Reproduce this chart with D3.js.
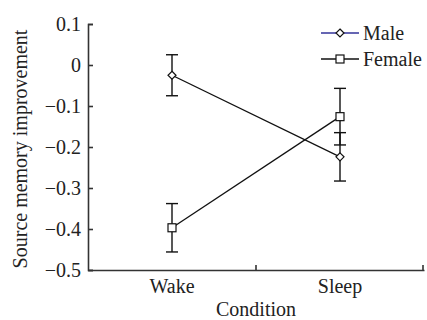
<!DOCTYPE html>
<html>
<head>
<meta charset="utf-8">
<script src="https://cdn.jsdelivr.net/npm/d3@7"></script>
<style>
  body { margin: 0; background: #fff; }
</style>
</head>
<body>
<div id="chart"></div>
<script>
const conditions = ["Wake", "Sleep"];
const maleMeans = [-0.025, -0.224];
const maleErr = [0.05, 0.059];
const femaleMeans = [-0.397, -0.126];
const femaleErr = [0.059, 0.069];
const yTicks = [0.1, 0, -0.1, -0.2, -0.3, -0.4, -0.5];

const width = 427, height = 320;
const margin = {top: 24, right: 3, bottom: 50, left: 88};
const serif = "'Times New Roman', Times, 'Liberation Serif', 'DejaVu Serif', serif";

const svg = d3.select("#chart").append("svg")
  .attr("width", width)
  .attr("height", height)
  .style("font-family", serif);

const x = d3.scaleBand()
  .domain(conditions)
  .range([margin.left, width - margin.right]);

const y = d3.scaleLinear()
  .domain([-0.5, 0.1])
  .range([height - margin.bottom, margin.top]);

const fmt = d => d === 0 ? "0" : d3.format(".1f")(d);

// axes
svg.append("g")
  .attr("transform", `translate(${margin.left},0)`)
  .call(d3.axisRight(y).tickValues(yTicks).tickSize(5).tickFormat(fmt))
  .call(g => g.selectAll(".tick text").attr("x", -7).attr("text-anchor", "end"))
  .call(g => g.selectAll("line,path").attr("stroke", "#333").attr("stroke-width", 1.6));

svg.append("g")
  .attr("transform", `translate(0,${height - margin.bottom})`)
  .call(d3.axisBottom(x).tickSize(0).tickSizeOuter(0))
  .call(g => g.select(".domain").attr("stroke", "#333").attr("stroke-width", 1.6))
  .call(g => g.selectAll(".tick text").attr("y", 9));

svg.selectAll("g").attr("font-family", null).attr("font-size", null);

// band dividers (tick marks pointing up)
svg.append("g").selectAll("line")
  .data(conditions.slice(1).map(c => x(c)).concat([x.range()[1] - 1]))
  .join("line")
  .attr("x1", d => d).attr("x2", d => d)
  .attr("y1", y(-0.5)).attr("y2", y(-0.5) - 5)
  .attr("stroke", "#333").attr("stroke-width", 1.6);

svg.append("text")
  .attr("x", x.range()[0] + (x.range()[1] - x.range()[0]) / 2)
  .attr("y", 316)
  .attr("text-anchor", "middle")
  .text("Condition");

svg.append("text")
  .attr("transform", `translate(27,149) rotate(-90)`)
  .attr("text-anchor", "middle")
  .text("Source memory improvement");

const cx = c => x(c) + x.bandwidth() / 2;

const series = [
  {name: "Male", means: maleMeans, err: maleErr, shape: "diamond", legendColor: "#33339a"},
  {name: "Female", means: femaleMeans, err: femaleErr, shape: "square", legendColor: "#111"}
];

const drawMarker = (g, shape, px, py) => {
  if (shape === "diamond") {
    g.append("path")
      .attr("d", `M${px},${py - 4}L${px + 4},${py}L${px},${py + 4}L${px - 4},${py}Z`)
      .attr("fill", "#fff").attr("stroke", "#111").attr("stroke-width", 1.2);
  } else {
    g.append("rect")
      .attr("x", px - 4).attr("y", py - 4).attr("width", 8).attr("height", 8)
      .attr("fill", "#fff").attr("stroke", "#111").attr("stroke-width", 1.2);
  }
};

const line = d3.line().x(d => cx(d.c)).y(d => y(d.v));

series.forEach(s => {
  const pts = conditions.map((c, i) => ({c, v: s.means[i], e: s.err[i]}));
  const g = svg.append("g");
  pts.forEach(p => {
    g.append("line")
      .attr("x1", cx(p.c)).attr("x2", cx(p.c))
      .attr("y1", y(p.v + p.e)).attr("y2", y(p.v - p.e))
      .attr("stroke", "#111").attr("stroke-width", 1.4);
    [p.v + p.e, p.v - p.e].forEach(v => {
      g.append("line")
        .attr("x1", cx(p.c) - 6).attr("x2", cx(p.c) + 6)
        .attr("y1", y(v)).attr("y2", y(v))
        .attr("stroke", "#111").attr("stroke-width", 1.4);
    });
  });
  g.append("path")
    .datum(pts)
    .attr("d", line)
    .attr("fill", "none")
    .attr("stroke", "#111")
    .attr("stroke-width", 1.3);
  pts.forEach(p => drawMarker(g, s.shape, cx(p.c), y(p.v)));
});

// legend
const legend = svg.append("g").attr("transform", "translate(321,33)");
series.forEach((s, i) => {
  const g = legend.append("g").attr("transform", `translate(0,${i * 26})`);
  g.append("line")
    .attr("x1", 0).attr("x2", 38)
    .attr("stroke", s.legendColor).attr("stroke-width", 1.3);
  drawMarker(g, s.shape, 19, 0);
  g.append("text")
    .attr("x", 42).attr("y", 0).attr("dy", "0.35em")
    .text(s.name);
});

svg.selectAll("text")
  .style("font-family", serif)
  .style("font-size", "20px")
  .attr("fill", "#222");
</script>
</body>
</html>
